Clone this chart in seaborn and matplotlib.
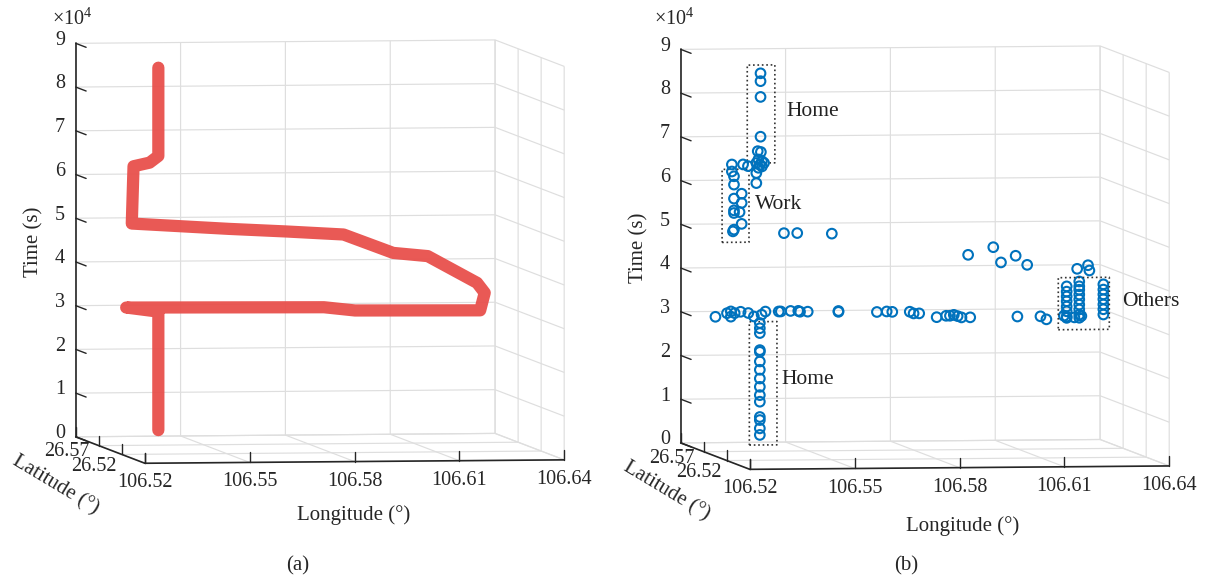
import numpy as np
import matplotlib
matplotlib.use("Agg")
import matplotlib.pyplot as plt
import seaborn as sns

# ---------------- data ----------------
lon_ticks = [106.52, 106.55, 106.58, 106.61, 106.64]
lon_ticklabels = ["106.52", "106.55", "106.58", "106.61", "106.64"]
lat_ticks = [26.47, 26.52, 26.57, 26.62]
lat_ticklabels = ["", "26.52", "26.57", ""]
time_ticks = [0, 1, 2, 3, 4, 5, 6, 7, 8, 9]          # x 10^4 s

# (a) raw GPS trajectory (longitude, latitude, time in s)
traj_lon = [106.5410, 106.5410, 106.5318, 106.5884, 106.5973, 106.6331, 106.6344,
            106.6322, 106.6181, 106.6082, 106.5940, 106.5776, 106.5612, 106.5334,
            106.5339, 106.5385, 106.5410, 106.5410]
traj_time = [2200, 29300, 30300, 30000, 29200, 29000, 33000,
             35300, 41500, 42300, 46600, 47400, 48100, 49500,
             62600, 63400, 64900, 85100]
traj_lat = [26.60] * len(traj_lon)

# (b) extracted stay points
home_pm_lon = [106.5402, 106.5402, 106.5402, 106.5402, 106.5394, 106.5403, 106.5396,
               106.5406, 106.5390, 106.5412, 106.5400, 106.5396, 106.5406, 106.5390,
               106.5390, 106.5352, 106.5366]
home_pm_time = [85200, 83400, 79800, 70700, 67400, 67200, 65500,
                65100, 64700, 64700, 64300, 63600, 63900, 62400,
                60100, 64400, 64000]
work_lon = [106.5320, 106.5320, 106.5326, 106.5326, 106.5348, 106.5326, 106.5348,
            106.5326, 106.5342, 106.5326, 106.5348, 106.5326, 106.5323]
work_time = [64400, 62800, 61700, 59800, 57700, 56600, 55600,
             53900, 53500, 53300, 50800, 49500, 49100]
move_lon = [106.5469, 106.5507, 106.5606, 106.5996, 106.6068, 106.6090, 106.6132,
            106.6165, 106.6308, 106.6339, 106.6343]
move_time = [48600, 48600, 48400, 43300, 45000, 41500, 43000,
             40900, 39900, 40700, 39500]
others_lon = [106.6278] * 8 + [106.6314] * 9 + [106.6383] * 7 + [106.6270, 106.6300, 106.6320]
others_time = [35900, 34700, 33600, 32500, 31300, 30200, 29000, 28700,
               37000, 35900, 35100, 34000, 32900, 31700, 30600, 29400, 28700,
               36300, 35100, 34000, 32900, 31700, 30600, 29400,
               29200, 28800, 29100]
trip_lon = [106.5273, 106.5317, 106.5317, 106.5306, 106.5328, 106.5345, 106.5367,
            106.5383, 106.5405, 106.5416, 106.5454, 106.5460, 106.5488, 106.5510,
            106.5515, 106.5537, 106.5625, 106.5625, 106.5735, 106.5763, 106.5779,
            106.5829, 106.5840, 106.5856, 106.5906, 106.5933, 106.5944, 106.5955,
            106.5966, 106.5977, 106.6002, 106.6137, 106.6203, 106.6220]
trip_time = [29600, 30800, 29600, 30400, 30400, 30700, 30400,
             29600, 30000, 30700, 30700, 30700, 30800, 30800,
             30600, 30600, 30500, 30700, 30400, 30500, 30400,
             30400, 30000, 30000, 29100, 29400, 29400, 29600,
             29300, 29000, 29000, 29100, 29100, 28400]
home_am_lon = [106.5400] * 15
home_am_time = [28100, 26900, 25800, 21900, 21500, 19300, 17400, 15400,
                13500, 11600, 10100, 6600, 5900, 4000, 2500]
stay_lat_value = 26.60

# annotation boxes (lon_lo, lon_hi, time_lo, time_hi) and labels
box_lon = [(106.5364, 106.5443), (106.5292, 106.5369), (106.5370, 106.5449), (106.6254, 106.6400)]
box_time = [(64700, 87100), (46600, 63300), (200, 28400), (26000, 37900)]
label_text = ["Home", "Work", "Home", "Others"]
label_lon = [106.5476, 106.5386, 106.5462, 106.6436]
label_time = [76500, 55200, 15100, 32400]

# ---------------- style ----------------
sns.set_theme(style="white")
plt.rcParams["font.family"] = ["Liberation Serif", "DejaVu Serif"]
plt.rcParams["mathtext.fontset"] = "custom"
plt.rcParams["mathtext.rm"] = "Liberation Serif"
RED = "#E8504C"
BLUE = "#0072BD"
AXC = "#262626"
GRID = "#dedede"
W, H = 1205, 578
TICK_FS = 14.5
LAB_FS = 15
# label offsets for the latitude tick labels (lon offset, time offset), per tick
LAT_LABEL_OFFS = [(0.0, 0.0), (0.0016, 0.383), (0.0026, 0.245), (0.0, 0.0)]

fig = plt.figure(figsize=(W / 100, H / 100), dpi=100)
fig.patch.set_facecolor("white")
axA = fig.add_axes([0.0, 0.0, 0.48, 1.0], projection="3d", proj_type="ortho")
axB = fig.add_axes([0.5, 0.0, 0.48, 1.0], projection="3d", proj_type="ortho")

X0, X1 = lon_ticks[0], lon_ticks[-1]
Y0, Y1 = lat_ticks[0], lat_ticks[-1]
Z0, Z1 = time_ticks[0], time_ticks[-1]


def style(ax):
    ax.set_facecolor((1, 1, 1, 0))
    ax.set_xlim(X0, X1)
    ax.set_ylim(Y0, Y1)
    ax.set_zlim(Z0, Z1)
    ax.set_box_aspect((1, 1.13, 0.93))
    ax.view_init(elev=3.2, azim=-98.3)
    ax.set_xticks(lon_ticks)
    ax.set_yticks(lat_ticks)
    ax.set_zticks(time_ticks)
    ax.set_xticklabels([])
    ax.set_yticklabels([])
    ax.set_zticklabels([])
    for axis in (ax.xaxis, ax.yaxis, ax.zaxis):
        axis.set_pane_color((1, 1, 1, 0))
        axis.pane.set_edgecolor("#c4c4c4")
        axis.pane.set_linewidth(0.9)
        axis.line.set_color((1, 1, 1, 0))
        axis._axinfo["grid"].update(color=GRID, linewidth=0.85, linestyle="-")
        axis._axinfo["tick"].update(inward_factor=0.0, outward_factor=0.0)
    ax.grid(True)
    # axis lines
    ax.plot([X0, X1], [Y0, Y0], [Z0, Z0], color=AXC, lw=1.2)
    ax.plot([X0, X0], [Y0, Y1], [Z0, Z0], color=AXC, lw=1.2)
    ax.plot([X0, X0], [Y1, Y1], [Z0, Z1], color=AXC, lw=1.2)
    # ticks
    dz = 0.23
    dy = 0.15 * (Y1 - Y0)
    for v in lon_ticks:
        ax.plot([v, v], [Y0, Y0], [Z0, Z0 + dz], color=AXC, lw=1.0)
    for v in lat_ticks:
        ax.plot([X0, X0], [v, v], [Z0, Z0 + dz], color=AXC, lw=1.0)
    for v in time_ticks:
        ax.plot([X0, X0], [Y1, Y1 - dy], [v, v], color=AXC, lw=1.0)


style(axA)
style(axB)

# (a) trajectory
axA.plot(traj_lon, traj_lat, np.array(traj_time) / 1e4, color=RED, lw=8.8,
         solid_capstyle="round", solid_joinstyle="round", alpha=0.95)

# (b) stay points
groups = [(home_pm_lon, home_pm_time), (work_lon, work_time), (move_lon, move_time),
          (others_lon, others_time), (trip_lon, trip_time), (home_am_lon, home_am_time)]
for glon, gtime in groups:
    axB.scatter(glon, [stay_lat_value] * len(glon), np.array(gtime) / 1e4, marker="o",
                s=48, facecolors="none", edgecolors=BLUE, linewidths=1.5, depthshade=False)

for (l0, l1), (t0, t1) in zip(box_lon, box_time):
    t0, t1 = t0 / 1e4, t1 / 1e4
    axB.plot([l0, l1, l1, l0, l0], [stay_lat_value] * 5, [t0, t0, t1, t1, t0],
             ls=":", color="#333333", lw=1.2)


# ------------- fit the projected box to the target frame -------------
def project_px(ax, xs, ys, zs):
    M = ax.get_proj()
    P = np.vstack([np.asarray(xs, float), np.asarray(ys, float), np.asarray(zs, float),
                   np.ones(len(xs))])
    V = M @ P
    pts = np.column_stack([V[0] / V[3], V[1] / V[3]])
    return ax.transData.transform(pts)


corners = [(X0, Y1, Z0), (X0, Y1, Z1), (X0, Y0, Z0), (X1, Y1, Z0), (X1, Y1, Z1), (X1, Y0, Z0)]


def fit_axes(ax, targets):
    fig.canvas.draw()
    xs, ys, zs = np.array(corners).T
    P = project_px(ax, xs, ys, zs)
    bb = ax.get_position()
    c_old = np.array([(bb.x0 + bb.x1) / 2 * W, (bb.y0 + bb.y1) / 2 * H])
    side_old = bb.width * W
    T = np.array([[x, H - y] for x, y in targets])
    D = P - c_old
    Dm, Tm = D.mean(0), T.mean(0)
    s = ((T - Tm) * (D - Dm)).sum() / ((D - Dm) ** 2).sum()
    C = Tm - s * Dm
    side = s * side_old
    ax.set_position([(C[0] - side / 2) / W, (C[1] - side / 2) / H, side / W, side / H])


fit_axes(axA, [(75.7, 436.7), (75.7, 44), (145, 463.3), (495, 433), (495, 39.3), (564.3, 460.3)])
fit_axes(axB, [(680.7, 442.7), (680.7, 50), (750, 470), (1100, 439), (1100, 45.3), (1169.3, 466)])
fig.canvas.draw()


# ------------- texts anchored at projected 3D positions -------------
def text3(ax, x, y, z, s, **kw):
    px = project_px(ax, [x], [y], [z])[0]
    fig.text(px[0] / W, px[1] / H, s, **kw)


for ax in (axA, axB):
    for v, s in zip(lon_ticks, lon_ticklabels):
        text3(ax, v, Y0, Z0 - 0.55, s, ha="center", va="baseline", fontsize=TICK_FS, color=AXC)
    for v, s, (ox, oz) in zip(lat_ticks, lat_ticklabels, LAT_LABEL_OFFS):
        if s:
            text3(ax, X0 - ox, v, Z0 - oz, s, ha="right", va="baseline",
                  fontsize=TICK_FS, color=AXC)
    for v in time_ticks:
        text3(ax, X0 - 0.0031, Y1, v - 0.03, str(v), ha="right", va="baseline",
              fontsize=TICK_FS, color=AXC)

for s, l, t in zip(label_text, label_lon, label_time):
    text3(axB, l, stay_lat_value, t / 1e4, s, ha="left", va="center", fontsize=15.5, color="#222222")


# ------------- axis labels / captions -------------
def ftxt(x, y, s, **kw):
    fig.text(x / W, 1 - y / H, s, **kw)


for dx, dy, lon_y, cap in [(0, 0, 515, "(a)"), (605, 6, 526, "(b)")]:
    ftxt(34 + dx, 242 + dy, "Time (s)", rotation=90, ha="center", va="center", fontsize=LAB_FS, color=AXC)
    ftxt(354 + dx + (4 if dx else 0), lon_y, "Longitude (°)", ha="center", va="center",
         fontsize=LAB_FS, color=AXC)
    ftxt(55 + dx + (6 if dx else 0), 485 + dy, "Latitude (°)", rotation=-31, ha="center",
         va="center", fontsize=LAB_FS, color=AXC, rotation_mode="anchor")
    ftxt(51.5 + dx - (2 if dx else 0), 25, "×10$^{4}$", ha="left", va="baseline", fontsize=14.5, color=AXC)
    ftxt(298 + dx + (3 if dx else 0), 566, cap, ha="center", va="center", fontsize=15, color=AXC)

fig.savefig("out.png", dpi=100, facecolor="white")
